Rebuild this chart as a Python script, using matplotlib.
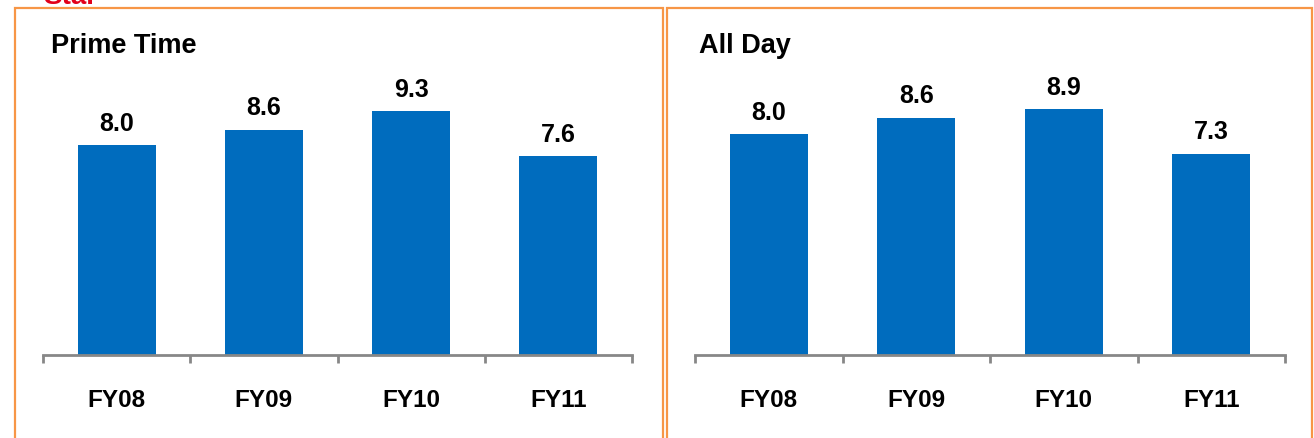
import matplotlib.pyplot as plt
from matplotlib.patches import Rectangle

plt.rcParams["font.family"] = ["Liberation Sans", "DejaVu Sans"]
plt.rcParams["font.weight"] = "bold"

years = ["FY08", "FY09", "FY10", "FY11"]
prime_time = [8.0, 8.6, 9.3, 7.6]
all_day = [8.0, 8.6, 8.9, 7.3]

W, H = 1314, 439
BLUE = "#006CBE"
ORANGE = "#F79646"
GREY = "#878787"

fig = plt.figure(figsize=(W / 100, H / 100), dpi=100)


def px(x, y):
    # pixel coords (from top-left) -> figure fraction
    return x / W, 1 - y / H


# panel borders
for x0, x1 in [(15, 663), (667, 1312)]:
    fig.patches.append(Rectangle(px(x0, 460), (x1 - x0) / W, 451 / H,
                                 transform=fig.transFigure, fill=False,
                                 edgecolor=ORANGE, linewidth=1.6))

# red header, mostly cut off at the top
fig.text(*px(43, 4), "Star", color="#E2001A", fontsize=20, fontweight="bold",
         va="baseline", ha="left")

panels = [
    ("Prime Time", prime_time, 43, 632, 51, 11.45),
    ("All Day", all_day, 695, 1285, 699, 10.87),
]

for title, vals, xl, xr, tx, ymax in panels:
    ax = fig.add_axes([xl / W, (H - 356) / H, (xr - xl) / W, 300 / H])
    bars = ax.bar(range(len(years)), vals, width=0.53, color=BLUE)
    ax.set_xlim(-0.5, len(years) - 0.5)
    ax.set_ylim(0, ymax)
    for s in ["top", "right", "left"]:
        ax.spines[s].set_visible(False)
    ax.spines["bottom"].set_color(GREY)
    ax.spines["bottom"].set_linewidth(2)
    ax.set_yticks([])
    ax.set_xticks(range(len(years)))
    ax.set_xticklabels(years, fontsize=17.5, fontweight="bold")
    ax.tick_params(axis="x", which="major", length=0, pad=24)
    ax.set_xticks([i - 0.5 for i in range(len(years) + 1)], minor=True)
    ax.tick_params(axis="x", which="minor", length=6, width=2, color=GREY,
                   direction="out")
    for b, v in zip(bars, vals):
        ax.annotate(f"{v:.1f}", (b.get_x() + b.get_width() / 2, v),
                    xytext=(0, 11), textcoords="offset points",
                    ha="center", va="baseline", fontsize=18, fontweight="bold")
    fig.text(*px(tx, 53), title, fontsize=19.5, fontweight="bold",
             ha="left", va="baseline")

fig.savefig("out.png", dpi=100)
